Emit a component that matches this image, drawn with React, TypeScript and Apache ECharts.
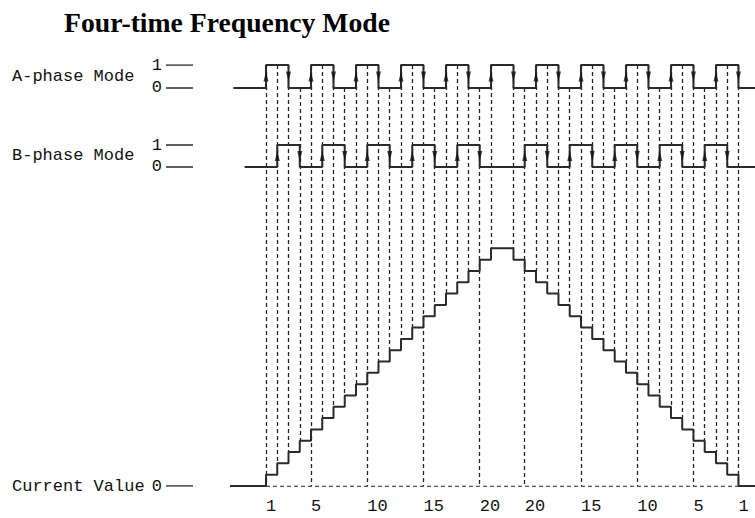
import React, { useEffect, useRef } from "react";
import * as echarts from "echarts";

// ---- data (time in quarter-period units, t = 0 is the first A-phase rising edge) ----
const A_EDGE_T = [0, 2, 4, 6, 8, 10, 12, 14, 16, 18, 20, 22, 24, 26, 28, 30, 32, 34, 36, 38, 40, 42];
const B_EDGE_T = [1, 3, 5, 7, 9, 11, 13, 15, 17, 19, 23, 25, 27, 29, 31, 33, 35, 37, 39, 41];
const COUNT_T = [0, 1, 2, 3, 4, 5, 6, 7, 8, 9, 10, 11, 12, 13, 14, 15, 16, 17, 18, 19, 20,
  22, 23, 24, 25, 26, 27, 28, 29, 30, 31, 32, 33, 34, 35, 36, 37, 38, 39, 40, 41, 42];
const COUNT_V = [1, 2, 3, 4, 5, 6, 7, 8, 9, 10, 11, 12, 13, 14, 15, 16, 17, 18, 19, 20, 21,
  20, 19, 18, 17, 16, 15, 14, 13, 12, 11, 10, 9, 8, 7, 6, 5, 4, 3, 2, 1, 0];
const TICK_T = [0, 4, 9, 14, 19, 23, 28, 33, 38, 42];
const TICK_LABELS = ["1", "5", "10", "15", "20", "20", "15", "10", "5", "1"];
const ROW_NAMES = ["Current Value", "B-phase Mode", "A-phase Mode"];
const LEVEL_TEXT = ["0", "0", "1", "0", "1"];
const TITLE = "Four-time Frequency Mode";

// trace extents (time units)
const X_MIN_T = -8.89;
const LEVEL_MARK_END_T = -6.49;
const A_START_T = -2.9;
const B_START_T = -1.9;
const C_START_T = -3.2;
const END_T = 43.47;

// vertical layout in count units (value axis)
const Y_MAX = 37.2;
const A_LOW = 35.17;
const A_HIGH = 37.2;
const B_LOW = 28.19;
const B_HIGH = 30.13;

const INK = "#2a2a2a";
const TEXT = "#111";
const MONO = "Liberation Mono";

function stepData(start: number, edges: number[], end: number, low: number, high: number) {
  let lvl = 0;
  const y = (l: number) => (l ? high : low);
  const pts: number[][] = [[start, y(lvl)]];
  for (const e of edges) {
    pts.push([e, y(lvl)]);
    lvl = 1 - lvl;
    pts.push([e, y(lvl)]);
  }
  pts.push([end, y(lvl)]);
  return pts;
}

function levelAt(edges: number[], t: number) {
  let n = 0;
  for (const e of edges) if (e < t) n++;
  return n % 2;
}

export default function App() {
  const ref = useRef<HTMLDivElement>(null);

  useEffect(() => {
    if (!ref.current) return;
    const chart = echarts.init(ref.current, undefined, { renderer: "svg" });

    const aData = stepData(A_START_T, A_EDGE_T, END_T, A_LOW, A_HIGH);
    const bData = stepData(B_START_T, B_EDGE_T, END_T, B_LOW, B_HIGH);

    const cData: number[][] = [[C_START_T, 0]];
    let prev = 0;
    COUNT_T.forEach((t, i) => {
      cData.push([t, prev]);
      cData.push([t, COUNT_V[i]]);
      prev = COUNT_V[i];
    });
    cData.push([END_T, prev]);

    const dashLines = COUNT_T.map((t, i) => {
      const before = i === 0 ? 0 : COUNT_V[i - 1];
      const bottom = TICK_T.includes(t) ? 0 : Math.max(before, COUNT_V[i]);
      const top = A_EDGE_T.includes(t) ? A_HIGH : levelAt(A_EDGE_T, t) ? A_HIGH : A_LOW;
      return { coords: [[t, top], [t, bottom]] };
    });
    dashLines.push({ coords: [[COUNT_T[0], 0], [COUNT_T[COUNT_T.length - 1], 0]] });

    const arrows: any[] = [];
    A_EDGE_T.forEach((t, i) => {
      arrows.push({ value: [t, (A_LOW + A_HIGH) / 2], symbolRotate: i % 2 === 0 ? 0 : 180 });
    });
    B_EDGE_T.forEach((t, i) => {
      arrows.push({ value: [t, (B_LOW + B_HIGH) / 2], symbolRotate: i % 2 === 0 ? 0 : 180 });
    });

    const levelValues = [0, B_LOW, B_HIGH, A_LOW, A_HIGH];
    const nameValues = [0, (B_LOW + B_HIGH) / 2, (A_LOW + A_HIGH) / 2];
    const levelMarks = levelValues.map((v) => ({ coords: [[X_MIN_T, v], [LEVEL_MARK_END_T, v]] }));

    const nearestIndex = (arr: number[], v: number) => {
      let best = 0;
      arr.forEach((a, i) => {
        if (Math.abs(a - v) < Math.abs(arr[best] - v)) best = i;
      });
      return best;
    };

    chart.setOption({
      animation: false,
      backgroundColor: "#ffffff",
      title: {
        text: TITLE,
        left: 59,
        top: 3,
        textStyle: {
          fontFamily: "Liberation Serif",
          fontWeight: "bold",
          fontSize: 27.7,
          color: "#000",
        },
      },
      grid: { left: 166, right: 0, top: 65, bottom: 32, outerBoundsMode: "none" },
      xAxis: {
        type: "value",
        min: X_MIN_T,
        max: END_T,
        axisLine: { show: false },
        axisTick: { show: false },
        splitLine: { show: false },
        axisLabel: {
          customValues: TICK_T,
          formatter: (v: number) => TICK_LABELS[nearestIndex(TICK_T, v)],
          align: "left",
          margin: 12,
          fontFamily: MONO,
          fontSize: 17,
          color: TEXT,
        },
      },
      yAxis: [
        {
          type: "value",
          min: 0,
          max: Y_MAX,
          position: "left",
          axisLine: { show: false },
          splitLine: { show: false },
          axisTick: { show: false },
          axisLabel: {
            customValues: levelValues,
            formatter: (v: number) => LEVEL_TEXT[nearestIndex(levelValues, v)],
            margin: 4,
            fontFamily: MONO,
            fontSize: 17,
            color: TEXT,
          },
        },
        {
          type: "value",
          min: 0,
          max: Y_MAX,
          position: "left",
          axisLine: { show: false },
          splitLine: { show: false },
          axisTick: { show: false },
          axisLabel: {
            customValues: nameValues,
            formatter: (v: number) => ROW_NAMES[nearestIndex(nameValues, v)],
            align: "left",
            margin: 154,
            fontFamily: MONO,
            fontSize: 17,
            color: TEXT,
          },
        },
      ],
      series: [
        {
          type: "lines",
          coordinateSystem: "cartesian2d",
          z: 1,
          silent: true,
          lineStyle: { color: "#222", width: 1.3, type: [4, 3], opacity: 1 },
          data: dashLines,
        },
        {
          type: "lines",
          coordinateSystem: "cartesian2d",
          z: 2,
          silent: true,
          lineStyle: { color: INK, width: 1.5, type: "solid", opacity: 1 },
          data: levelMarks,
        },
        {
          type: "line",
          name: "A-phase",
          data: aData,
          symbol: "none",
          z: 3,
          lineStyle: { color: INK, width: 2 },
        },
        {
          type: "line",
          name: "B-phase",
          data: bData,
          symbol: "none",
          z: 3,
          lineStyle: { color: INK, width: 2 },
        },
        {
          type: "line",
          name: "Current Value",
          data: cData,
          symbol: "none",
          z: 3,
          lineStyle: { color: INK, width: 2 },
        },
        {
          type: "scatter",
          data: arrows,
          symbol: "triangle",
          symbolSize: [5, 10],
          z: 4,
          itemStyle: { color: "#111" },
        },
      ],
    });

    return () => chart.dispose();
  }, []);

  return (
    <div
      ref={ref}
      style={{ position: "fixed", left: 0, top: 0, width: 755, height: 518, background: "#fff" }}
    />
  );
}
